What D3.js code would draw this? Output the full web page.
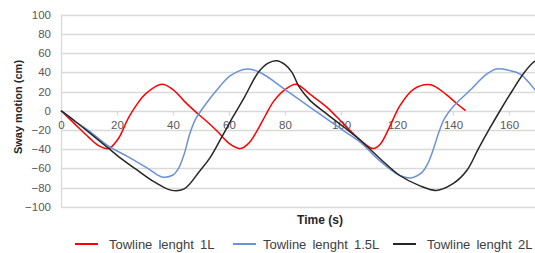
<!DOCTYPE html>
<html>
<head>
<meta charset="utf-8">
<script src="https://cdn.jsdelivr.net/npm/d3@7"></script>
<style>
  body { margin: 0; background: #fff; }
  svg { display: block; font-family: "Liberation Sans", Arial, sans-serif; }
  .grid line { stroke: #d9d9d9; }
  .tick text { fill: #595959; font-size: 11.5px; }
</style>
</head>
<body>
<svg width="535" height="253"></svg>
<script>
// time (s) and sway (cm)
var time1L = [0, 5, 10, 13.5, 17, 20.5, 24, 27, 30, 36, 40, 44, 48, 52, 56, 60, 64, 67, 70, 73, 76, 80, 84, 89, 95, 101, 107, 111.5, 114, 117.5, 121, 126, 132, 137.5, 141.5, 144.5];
var sway1L = [0, -14, -28, -36.5, -39.5, -29, -8, 6, 17, 27.5, 22, 10, -1, -11, -22, -34, -39.5, -34, -21, -5, 10, 22, 27.5, 17, 3.5, -14, -31, -39.5, -35, -16, 5, 22.5, 27, 17, 7, 0];

var time15L = [0, 5, 10, 17, 24, 31, 36, 40, 42, 44, 46, 48, 50.5, 55.5, 60.5, 66.5, 71, 80.5, 89, 95, 101, 107, 113, 121, 125, 129, 131, 133, 135, 137, 140, 146, 152, 155.5, 160, 164, 170];
var sway15L = [0, -11, -21, -37, -48, -60, -69, -67, -60, -45, -24, -9, 2, 21, 36.5, 43.5, 40, 21, 3.5, -8.7, -21, -33, -50, -67.5, -70, -64, -55, -40, -22, -8, 4, 21, 38, 43.5, 42, 38, 19];

var time2L = [0, 5, 10, 16.5, 21.5, 27.5, 33.5, 39.5, 44, 49.5, 53, 57.5, 61.5, 65.5, 70.5, 74, 77, 80, 82.5, 85, 89, 95, 101, 107, 114, 121, 128, 134, 140, 145, 149, 153, 157, 161, 165, 168.5, 170];
var sway2L = [0, -11, -22.5, -38, -50, -62.5, -74.5, -83, -81.5, -63, -50, -27, -6, 14, 40, 49.5, 52, 48, 40, 25, 10.5, -3.5, -17, -31, -50, -67.5, -78, -83, -76, -62, -40, -19, 1, 20, 38, 50, 53];

var seriesNames = ["Towline lenght 1L", "Towline lenght 1.5L", "Towline lenght 2L"];
var seriesColors = ["#ff0000", "#6b91d6", "#262626"];
var xTicks = [0, 20, 40, 60, 80, 100, 120, 140, 160];
var yTicks = [-100, -80, -60, -40, -20, 0, 20, 40, 60, 80, 100];

var series = [
  {name: seriesNames[0], t: time1L, v: sway1L},
  {name: seriesNames[1], t: time15L, v: sway15L},
  {name: seriesNames[2], t: time2L, v: sway2L}
].map(function(s, i) {
  return {
    name: s.name,
    color: seriesColors[i],
    values: s.t.map(function(t, j) { return {time: t, sway: s.v[j]}; })
  };
});

var svg = d3.select("svg");

var x = d3.scaleLinear().domain([0, 170]).range([61, 537]),
    y = d3.scaleLinear().domain([-100, 100]).range([206.7, 14.7]);

// horizontal grid
svg.append("g")
    .attr("class", "grid")
    .selectAll("line")
    .data(yTicks)
    .enter().append("line")
    .attr("x1", x(0))
    .attr("x2", 535)
    .attr("y1", function(d) { return Math.round(y(d)) + 0.5; })
    .attr("y2", function(d) { return Math.round(y(d)) + 0.5; })
    .attr("stroke-width", 1.3);

// vertical axis line at x = 0
svg.append("line")
    .attr("x1", x(0) + 0.5).attr("x2", x(0) + 0.5)
    .attr("y1", y(100)).attr("y2", y(-100))
    .attr("stroke", "#d9d9d9")
    .attr("stroke-width", 1.3);

// y axis labels
svg.append("g")
    .attr("transform", "translate(" + (x(0) - 2) + ",0)")
    .call(d3.axisLeft(y).tickValues(yTicks).tickSize(0).tickPadding(8))
    .call(function(g) { g.select(".domain").remove(); });

// x axis along zero line
var xAxis = svg.append("g")
    .attr("transform", "translate(0," + (Math.round(y(0)) + 0.5) + ")")
    .call(d3.axisBottom(x).tickValues(xTicks).tickSize(4).tickPadding(5));
xAxis.select(".domain").remove();
xAxis.selectAll(".tick line").attr("stroke", "#d9d9d9").attr("stroke-width", 1.3);

var line = d3.line()
    .curve(d3.curveCatmullRom.alpha(0.5))
    .x(function(d) { return x(d.time); })
    .y(function(d) { return y(d.sway); });

svg.append("g")
    .selectAll("path")
    .data(series)
    .enter().append("path")
    .attr("fill", "none")
    .attr("stroke", function(d) { return d.color; })
    .attr("stroke-width", 1.5)
    .attr("d", function(d) { return line(d.values); });

// axis titles
svg.append("text")
    .attr("x", 320)
    .attr("y", 224)
    .attr("text-anchor", "middle")
    .style("font-size", "12px")
    .style("font-weight", "bold")
    .attr("fill", "#262626")
    .text("Time (s)");

svg.append("text")
    .attr("transform", "translate(22,107) rotate(-90)")
    .attr("text-anchor", "middle")
    .style("font-size", "11px")
    .style("font-weight", "bold")
    .attr("fill", "#262626")
    .text("Sway motion (cm)");

// legend
var legendX = [75, 233, 393];
var legend = svg.append("g")
    .selectAll("g")
    .data(series)
    .enter().append("g")
    .attr("transform", function(d, i) { return "translate(" + legendX[i] + ",244)"; });

legend.append("line")
    .attr("x1", 0).attr("x2", 23)
    .attr("stroke", function(d) { return d.color; })
    .attr("stroke-width", 2);

legend.append("text")
    .attr("x", function(d, i) { return i === 1 ? 30 : 34; })
    .attr("dy", "0.35em")
    .style("font-size", "13px")
    .attr("fill", "#404040")
    .style("word-spacing", "2.5px")
    .text(function(d) { return d.name; });
</script>
</body>
</html>
